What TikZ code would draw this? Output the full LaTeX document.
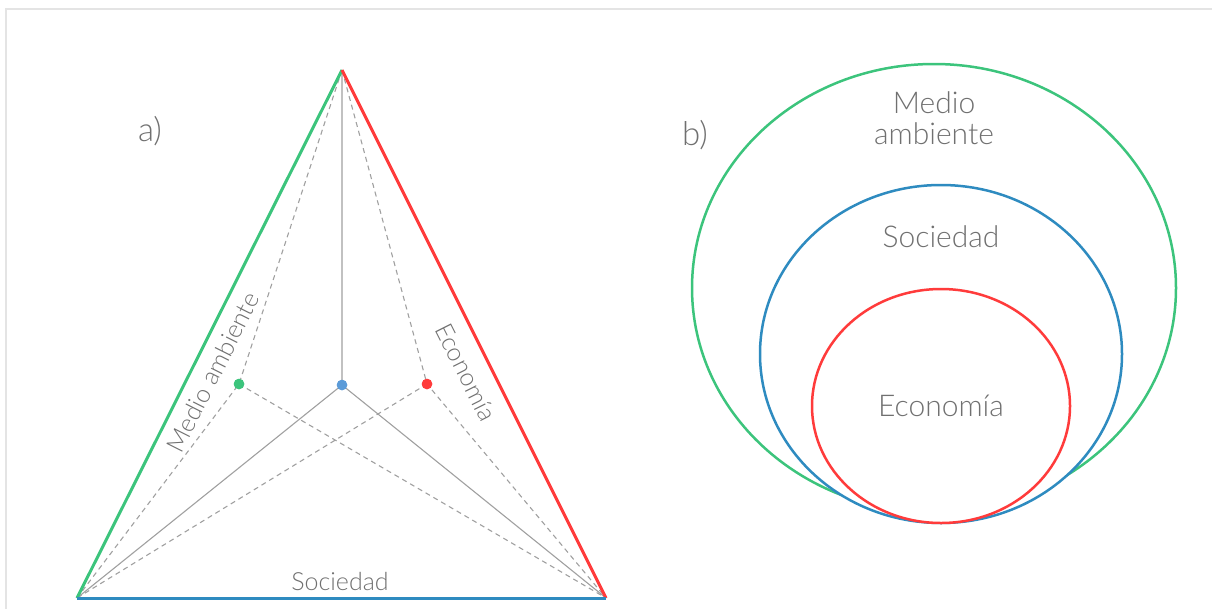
\documentclass[tikz,border=0pt]{standalone}
\usepackage{fontspec}
\setmainfont{Lato Light}
\usetikzlibrary{shapes.geometric}
\definecolor{cgreen}{RGB}{60,196,124}
\definecolor{cred}{RGB}{255,59,59}
\definecolor{cblue}{RGB}{46,139,192}
\definecolor{cbluedot}{RGB}{91,155,216}
\definecolor{ctext}{RGB}{112,112,112}
\definecolor{cline}{RGB}{160,160,160}
\definecolor{cframe}{RGB}{228,228,228}
\tikzset{
  lbl/.style={inner sep=0pt, text=ctext, font=\fontsize{25}{29}\selectfont},
  biglbl/.style={inner sep=0pt, text=ctext, font=\fontsize{30}{31}\selectfont, align=center},
  partlbl/.style={inner sep=0pt, text=ctext, font=\fontsize{33}{36}\selectfont},
  dotnode/.style={circle, inner sep=0pt, minimum size=10.5pt},
  solidgray/.style={draw=cline, line width=1.1pt},
  dashgray/.style={draw=cline, line width=1.1pt, dash pattern=on 5pt off 4pt},
  edge/.style={line width=3pt},
  ring/.style={ellipse, draw, line width=2.5pt, fill=white, inner sep=0pt},
}
\begin{document}
\begin{tikzpicture}[x=1pt,y=-1pt]
\useasboundingbox (0,0) rectangle (1212,608);
% frame
\draw[cframe, line width=1.5pt] (6,612) -- (6,9) -- (1216,9);
% triangle
\coordinate (A) at (342,70);
\coordinate (BL) at (77,598);
\coordinate (BR) at (606,598);
\node[dotnode, fill=cgreen] (G) at (239,384) {};
\node[dotnode, fill=cbluedot] (C) at (342,385) {};
\node[dotnode, fill=cred] (R) at (427,384) {};
\draw[solidgray] (A) -- (C.center) (C.center) -- (BL) (C.center) -- (BR);
\draw[dashgray] (A) -- (G.center) -- (BL) (G.center) -- (BR);
\draw[dashgray] (A) -- (R.center) -- (BR) (R.center) -- (BL);
\node[dotnode, fill=cgreen] at (G) {};
\node[dotnode, fill=cbluedot] at (C) {};
\node[dotnode, fill=cred] at (R) {};
\draw[edge, cgreen] (BL) -- (A);
\draw[edge, cred] (A) -- (BR);
\draw[edge, cblue] (BL) -- (BR);
\node[lbl, rotate=63.3] (lma) at (213,372) {Medio ambiente};
\node[lbl, rotate=-63.3] (lec) at (466,372) {Economía};
\node[lbl] (lso) at (340,581) {Sociedad};
\node[partlbl] (la) at (150,131) {a)};
% circles
\node[ring, draw=cgreen, minimum width=484pt, minimum height=448pt] (env) at (934,288) {};
\node[ring, draw=cblue, minimum width=362pt, minimum height=338pt] (soc) at (941,354) {};
\node[ring, draw=cred, minimum width=258pt, minimum height=234pt] (eco) at (941,406) {};
\node[biglbl] (tenv) at (934,118) {Medio\\ambiente};
\node[biglbl] (tsoc) at (941,237) {Sociedad};
\node[biglbl] (teco) at (941,406) {Economía};
\node[partlbl] (lb) at (695,135) {b)};
\end{tikzpicture}
\end{document}
